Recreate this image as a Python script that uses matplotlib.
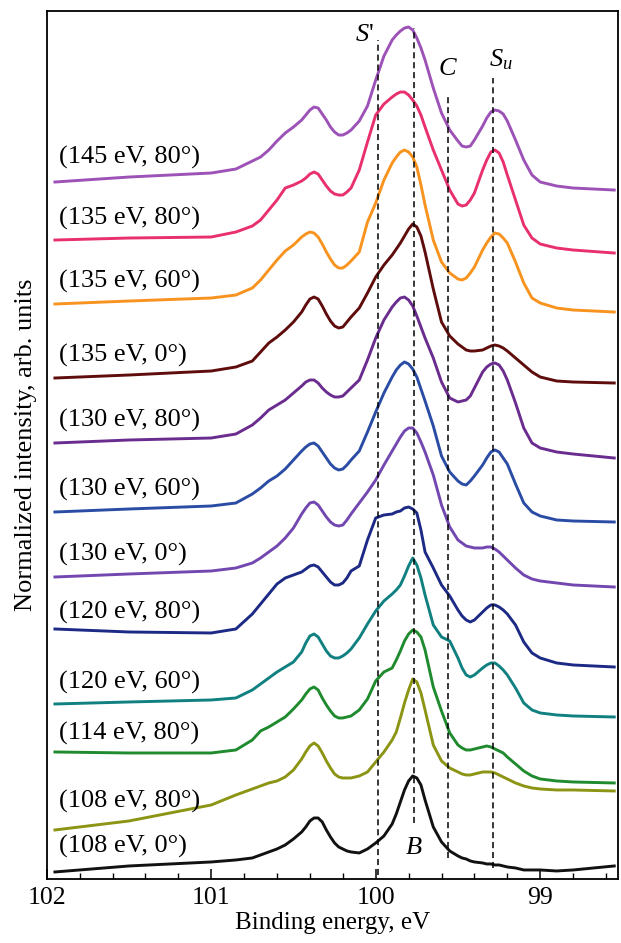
import matplotlib
matplotlib.use("Agg")
import matplotlib.pyplot as plt
from matplotlib.ticker import MultipleLocator, FuncFormatter

plt.rcParams['font.family'] = ['Liberation Serif', 'DejaVu Serif']
plt.rcParams['mathtext.fontset'] = 'custom'
plt.rcParams['mathtext.rm'] = 'Liberation Serif'
plt.rcParams['mathtext.it'] = 'Liberation Serif:italic'

# binding energy grid (eV), shared by all spectra
energy = [101.95, 101.5, 101.0, 100.85, 100.75, 100.7, 100.65, 100.6, 100.55, 100.5,
          100.45, 100.425, 100.4, 100.375, 100.35, 100.325, 100.3, 100.275, 100.25, 100.225,
          100.2, 100.175, 100.15, 100.1, 100.05, 100.0, 99.95, 99.9, 99.875, 99.85,
          99.825, 99.8, 99.775, 99.75, 99.725, 99.7, 99.65, 99.6, 99.55, 99.5,
          99.475, 99.45, 99.425, 99.4, 99.35, 99.325, 99.3, 99.275, 99.25, 99.225,
          99.2, 99.15, 99.1, 99.05, 99.0, 98.9, 98.8, 98.55]

# stacked intensities (arb. units, offsets included), top to bottom
i_145_80 = [697, 702, 706, 710, 718, 722, 729, 738, 746, 752, 759, 764, 769, 772, 771, 765, 759, 752, 747, 744,
            744, 746, 749, 758, 773, 799, 823, 839, 844, 848, 851, 852, 849, 841, 831, 819, 791, 766, 749, 738,
            733, 732, 733, 739, 753, 761, 767, 769, 768, 765, 758, 739, 719, 704, 697, 693, 691, 689]
i_135_80 = [639, 641, 642, 647, 653, 659, 669, 679, 691, 694, 698, 701, 705, 707, 705, 699, 693, 688, 685, 684,
            684, 687, 691, 709, 737, 764, 775, 782, 785, 787, 787, 784, 779, 773, 764, 752, 729, 709, 689, 675,
            673, 674, 679, 686, 709, 719, 727, 729, 726, 717, 704, 679, 654, 641, 635, 631, 629, 626]
i_135_60 = [575, 578, 581, 584, 591, 599, 609, 619, 628, 634, 642, 645, 647, 646, 642, 635, 627, 620, 614, 611,
            611, 614, 618, 627, 657, 676, 699, 716, 722, 727, 729, 727, 722, 712, 694, 674, 639, 617, 606, 600,
            599, 601, 606, 612, 629, 636, 642, 646, 645, 641, 636, 617, 596, 581, 576, 571, 569, 567]
i_135_0 = [501, 504, 508, 512, 518, 527, 536, 542, 549, 557, 567, 574, 580, 582, 580, 573, 565, 558, 553, 551,
           552, 557, 562, 571, 586, 602, 614, 624, 630, 636, 643, 650, 655, 652, 643, 627, 590, 557, 543, 535,
           532, 529, 528, 528, 529, 531, 533, 534, 533, 531, 528, 521, 514, 507, 502, 498, 497, 496]
i_130_80 = [436, 439, 441, 445, 454, 461, 469, 474, 479, 486, 493, 497, 499, 499, 496, 491, 487, 484, 482, 482,
            483, 487, 491, 499, 519, 541, 559, 572, 577, 581, 582, 579, 573, 563, 552, 541, 521, 497, 481, 477,
            478, 479, 483, 491, 507, 512, 515, 516, 514, 508, 499, 476, 451, 436, 431, 427, 425, 421]
i_130_60 = [367, 370, 373, 376, 385, 391, 398, 403, 410, 419, 428, 432, 435, 436, 433, 427, 421, 415, 411, 409,
            410, 414, 419, 428, 447, 467, 486, 502, 509, 514, 517, 515, 510, 502, 490, 478, 453, 423, 407, 398,
            395, 394, 398, 403, 414, 421, 427, 429, 427, 421, 415, 395, 376, 367, 363, 359, 358, 357]
i_130_0 = [302, 305, 308, 311, 316, 321, 327, 333, 341, 351, 365, 371, 376, 377, 374, 368, 362, 357, 354, 353,
           354, 359, 365, 376, 387, 399, 414, 428, 435, 442, 448, 451, 451, 446, 437, 427, 404, 374, 352, 339,
           336, 333, 332, 331, 331, 332, 332, 330, 327, 323, 319, 311, 304, 300, 298, 296, 294, 292]
i_120_80 = [250, 247, 246, 250, 265, 275, 285, 295, 301, 304, 307, 310, 313, 314, 312, 307, 302, 297, 294, 294,
            296, 301, 308, 313, 339, 361, 364, 365, 367, 368, 371, 372, 370, 366, 349, 327, 311, 294, 283, 269,
            263, 259, 257, 259, 267, 271, 274, 274, 272, 269, 265, 254, 237, 226, 221, 216, 214, 212]
i_120_60 = [175, 177, 179, 181, 189, 195, 201, 207, 212, 217, 227, 236, 243, 245, 242, 235, 228, 223, 221, 221,
            223, 226, 230, 241, 255, 268, 278, 285, 289, 294, 303, 313, 321, 314, 301, 284, 254, 242, 238, 221,
            211, 204, 202, 204, 211, 214, 216, 216, 213, 209, 204, 191, 176, 169, 166, 164, 163, 162]
i_114_80 = [127, 126, 126, 129, 139, 148, 152, 157, 162, 170, 179, 185, 190, 192, 189, 181, 174, 168, 163, 161,
            161, 162, 163, 169, 180, 198, 207, 211, 219, 228, 238, 245, 249, 247, 242, 229, 192, 168, 146, 134,
            131, 129, 129, 130, 132, 133, 132, 130, 128, 126, 122, 115, 108, 103, 100, 98, 97, 96]
i_108_80 = [49, 58, 74, 84, 90, 93, 96, 98, 102, 109, 120, 127, 133, 136, 133, 126, 118, 111, 105, 102,
            101, 101, 101, 103, 107, 117, 127, 139, 147, 161, 176, 189, 200, 197, 186, 169, 134, 118, 111, 107,
            105, 104, 104, 105, 107, 107, 107, 106, 104, 102, 100, 96, 93, 91, 90, 89, 89, 88]
i_108_0 = [7, 13, 17, 19, 21, 24, 27, 30, 34, 40, 47, 52, 58, 61, 61, 57, 49, 42, 36, 32,
           30, 28, 27, 26, 30, 36, 43, 55, 65, 77, 89, 98, 103, 101, 94, 79, 52, 37, 28, 23,
           21, 20, 18, 17, 16, 15, 15, 14, 14, 13, 12, 11, 9, 9, 9, 8, 9, 13]

spectra = [i_145_80, i_135_80, i_135_60, i_135_0, i_130_80, i_130_60,
           i_130_0, i_120_80, i_120_60, i_114_80, i_108_80, i_108_0]
labels = ["(145 eV, 80°)", "(135 eV, 80°)", "(135 eV, 60°)", "(135 eV, 0°)",
          "(130 eV, 80°)", "(130 eV, 60°)", "(130 eV, 0°)", "(120 eV, 80°)",
          "(120 eV, 60°)", "(114 eV, 80°)", "(108 eV, 80°)", "(108 eV, 0°)"]
colors = ["#9c52b6", "#e8306e", "#f7931e", "#5e0c0c", "#6a2c8e", "#2a4ca4",
          "#7248b0", "#1c2a85", "#118080", "#1f8b2e", "#8c9414", "#111111"]

# component positions (eV): S', B, C, Su
marker_energy = [99.985, 99.766, 99.56, 99.286]

fig = plt.figure(figsize=(6.21, 9.43), dpi=100)
ax = fig.add_axes([0.0752, 0.0679, 0.92, 0.9204])

for y, c in zip(spectra, colors):
    ax.plot(energy, y, color=c, lw=2.1, solid_joinstyle='round')

for y, lab in zip(spectra, labels):
    ax.text(101.925, y[1] + 20, lab, fontsize=19, ha='left', va='center')

# dashed guide lines
dash = (0, (4, 2.5))
ax.vlines(marker_energy[0], 4, 839, colors='k', linestyles=dash, lw=1.1)
ax.vlines(marker_energy[1], 56, 851, colors='k', linestyles=dash, lw=1.1)
ax.vlines(marker_energy[2], 21, 784, colors='k', linestyles=dash, lw=1.1)
ax.vlines(marker_energy[3], 11, 801, colors='k', linestyles=dash, lw=1.1)

ax.text(100.07, 844, "$S$'", fontsize=19, ha='center', va='center')
ax.text(99.766, 31, "$B$", fontsize=19, ha='center', va='center')
ax.text(99.56, 810, "$C$", fontsize=19, ha='center', va='center')
ax.text(99.24, 819, "$S_u$", fontsize=19, ha='center', va='center')

ax.set_xlim(102, 98.527)
ax.set_ylim(0, 868)
ax.set_yticks([])
ax.xaxis.set_major_locator(MultipleLocator(1))
ax.xaxis.set_minor_locator(MultipleLocator(0.2))
ax.xaxis.set_major_formatter(FuncFormatter(lambda v, p: f"{v:.0f}"))
ax.tick_params(axis='x', which='major', direction='in', length=7, width=1.1, labelsize=18.5, pad=6)
ax.tick_params(axis='x', which='minor', direction='in', length=4.5, width=1.0)
for s in ax.spines.values():
    s.set_linewidth(1.3)

ax.set_xlabel("Binding energy, eV", fontsize=18, labelpad=2)
ax.set_ylabel("Normalized intensity, arb. units", fontsize=19, labelpad=7)

fig.savefig("out.png", dpi=100)
